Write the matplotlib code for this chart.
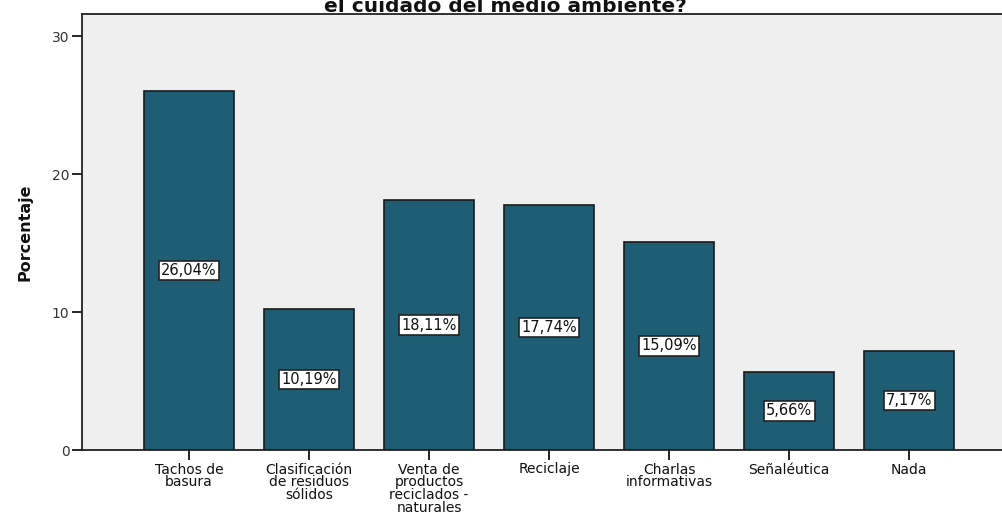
import matplotlib.pyplot as plt
import numpy as np

# datos
categorias = ['Tachos de\nbasura', 'Clasificación\nde residuos\nsólidos',
              'Venta de\nproductos\nreciclados -\nnaturales', 'Reciclaje',
              'Charlas\ninformativas', 'Señaléutica', 'Nada']
porcentajes = [26.04, 10.19, 18.11, 17.74, 15.09, 5.66, 7.17]
etiquetas = ['26,04%', '10,19%', '18,11%', '17,74%', '15,09%', '5,66%', '7,17%']

plt.rcParams['font.family'] = ['DejaVu Sans']

fig = plt.figure(figsize=(10.03, 5.14), dpi=100)
ax = fig.add_axes([82 / 1003, 64 / 514, 1 - 82 / 1003, (450 - 14) / 514])
ax.set_facecolor('#efefef')

x = np.arange(len(categorias))
ax.bar(x, porcentajes, width=0.75, color='#1d5e74', edgecolor='#1a1a1a', linewidth=1.2, zorder=2)

for xi, v, t in zip(x, porcentajes, etiquetas):
    ax.text(xi, v / 2, t, ha='center', va='center', fontsize=10.5, color='#111111', zorder=3,
            bbox=dict(boxstyle='square,pad=0.15', fc='white', ec='#222222', lw=1.2))

ax.set_xlim(-0.89, 6.78)
ax.set_ylim(0, 31.6)
ax.set_yticks([0, 10, 20, 30])
ax.set_xticks(x)
ax.set_xticklabels(categorias, fontsize=10, linespacing=0.9, color='#111111')
ax.tick_params(axis='y', length=7, width=1.2, labelsize=10, labelcolor='#333333', pad=2)
ax.tick_params(axis='x', length=7, width=1.2, pad=2)
ax.set_ylabel('Porcentaje', fontsize=11.5, fontweight='bold', labelpad=14, color='#111111')

ax.spines['right'].set_visible(False)
for s in ['left', 'bottom', 'top']:
    ax.spines[s].set_linewidth(1.3)
    ax.spines[s].set_color('#222222')

# el título original queda cortado arriba
fig.text(505 / 1003, 1 - 12 / 514, 'el cuidado del medio ambiente?', ha='center', va='baseline',
         fontsize=14.5, fontweight='bold', color='#111111')

fig.savefig('out.png', dpi=100)
